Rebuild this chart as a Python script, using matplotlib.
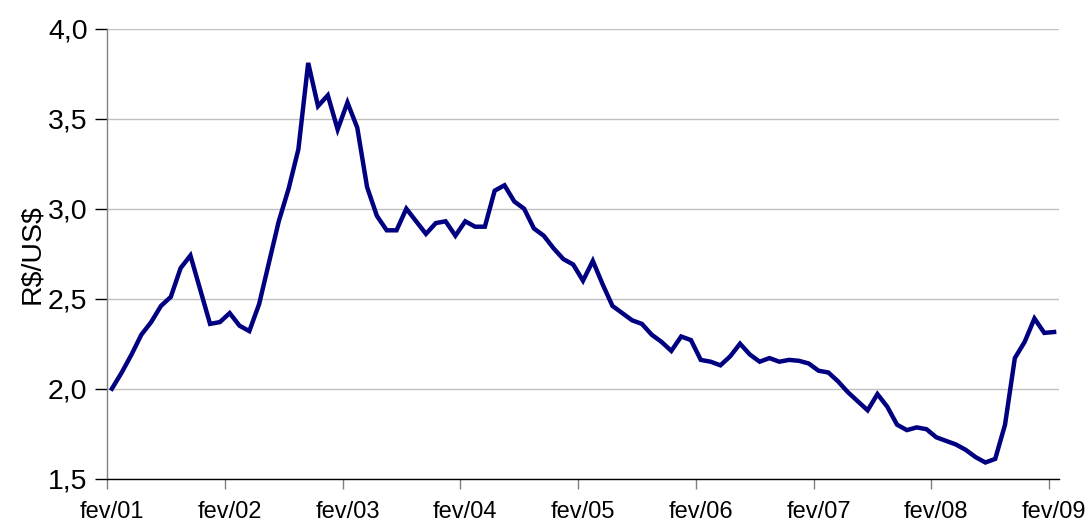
import matplotlib
matplotlib.use("Agg")
import matplotlib.pyplot as plt
from matplotlib.ticker import FixedLocator, NullFormatter

values = [2.00, 2.09, 2.19, 2.30, 2.37, 2.46, 2.51, 2.67, 2.74, 2.55,
          2.36, 2.37, 2.42, 2.35, 2.32, 2.47, 2.70, 2.93, 3.11, 3.33,
          3.81, 3.57, 3.63, 3.44, 3.59, 3.45, 3.12, 2.96, 2.88, 2.88,
          3.00, 2.93, 2.86, 2.92, 2.93, 2.85, 2.93, 2.90, 2.90, 3.10,
          3.13, 3.04, 3.00, 2.89, 2.85, 2.78, 2.72, 2.69, 2.60, 2.71,
          2.58, 2.46, 2.42, 2.38, 2.36, 2.30, 2.26, 2.21, 2.29, 2.27,
          2.16, 2.15, 2.13, 2.18, 2.25, 2.19, 2.15, 2.17, 2.15, 2.16,
          2.155, 2.14, 2.10, 2.09, 2.04, 1.98, 1.93, 1.88, 1.97, 1.90,
          1.80, 1.77, 1.785, 1.775, 1.73, 1.71, 1.69, 1.66, 1.62, 1.59,
          1.61, 1.80, 2.17, 2.26, 2.39, 2.31, 2.315]
tick_labels = ["fev/01", "fev/02", "fev/03", "fev/04", "fev/05",
               "fev/06", "fev/07", "fev/08", "fev/09"]
y_ticks = [1.5, 2.0, 2.5, 3.0, 3.5, 4.0]
y_tick_labels = ["1,5", "2,0", "2,5", "3,0", "3,5", "4,0"]
y_label = "R$/US$"

plt.rcParams['font.family'] = ['Liberation Sans', 'DejaVu Sans']
plt.rcParams['text.parse_math'] = False

fig = plt.figure(figsize=(10.92, 5.26), dpi=100)
ax = fig.add_axes([107/1092, 1 - 478.7/526, (1059 - 107)/1092, (478.7 - 28.7)/526])

x = list(range(len(values)))
ax.plot(x, values, color="#000080", lw=3.2, solid_joinstyle="miter", zorder=3)

ax.set_xlim(-0.5, len(values) - 0.5)
ax.set_ylim(1.5, 4.0)

# major ticks between categories (marks only), minor ticks at categories (labels only)
label_pos = [i * 12 for i in range(len(tick_labels))]
ax.xaxis.set_major_locator(FixedLocator([p - 0.5 for p in label_pos]))
ax.xaxis.set_major_formatter(NullFormatter())
ax.xaxis.set_minor_locator(FixedLocator(label_pos))
ax.set_xticklabels(tick_labels, minor=True)
ax.tick_params(axis="x", which="major", length=7, width=1.0, color="#808080", direction="out")
ax.tick_params(axis="x", which="minor", length=0, labelsize=17, pad=16)

ax.set_yticks(y_ticks)
ax.set_yticklabels(y_tick_labels)
ax.tick_params(axis="y", length=9, width=1.0, color="black", labelsize=20.5, pad=5)

ax.set_ylabel(y_label, fontsize=20.5, labelpad=2)

ax.grid(axis="y", color="#c0c0c0", lw=1.0, zorder=0)
ax.set_axisbelow(True)
for s in ["top", "right"]:
    ax.spines[s].set_visible(False)
ax.spines["left"].set_color("#808080")
ax.spines["bottom"].set_color("black")
ax.spines["left"].set_linewidth(1.0)
ax.spines["bottom"].set_linewidth(1.0)

fig.savefig("out.png", dpi=100)
